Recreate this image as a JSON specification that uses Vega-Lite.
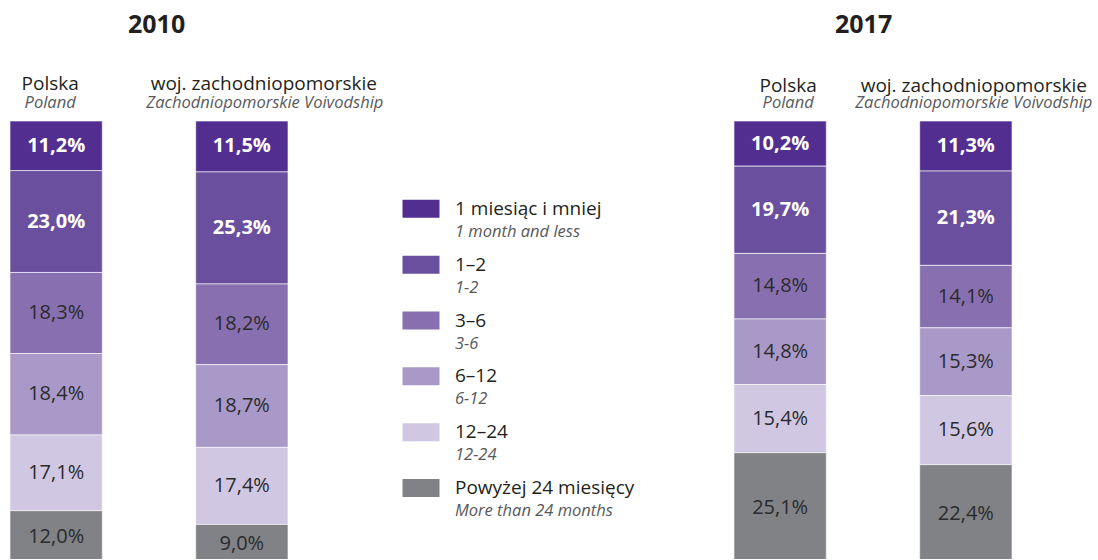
{
  "$schema": "https://vega.github.io/schema/vega-lite/v6.json",
  "background": "white",
  "padding": {"left": 10, "top": 13, "right": 0, "bottom": 0},
  "config": {
    "view": {"stroke": null},
    "font": "Open Sans",
    "axis": {"domain": false, "ticks": false, "grid": false, "title": null, "labelAngle": 0, "labelOverlap": false, "labelLimit": 0, "labelFont": "Open Sans"},
    "locale": {"number": {"decimal": ",", "thousands": " ", "grouping": [3], "currency": ["", "%"]}}
  },
  "datasets": {
    "bars": [
      {"year": "2010", "region": "Polska", "cat": "1 miesiąc i mniej", "k": 1, "value": 11.2},
      {"year": "2010", "region": "Polska", "cat": "1–2", "k": 2, "value": 23.0},
      {"year": "2010", "region": "Polska", "cat": "3–6", "k": 3, "value": 18.3},
      {"year": "2010", "region": "Polska", "cat": "6–12", "k": 4, "value": 18.4},
      {"year": "2010", "region": "Polska", "cat": "12–24", "k": 5, "value": 17.1},
      {"year": "2010", "region": "Polska", "cat": "Powyżej 24 miesięcy", "k": 6, "value": 12.0},
      {"year": "2010", "region": "woj. zachodniopomorskie", "cat": "1 miesiąc i mniej", "k": 1, "value": 11.5},
      {"year": "2010", "region": "woj. zachodniopomorskie", "cat": "1–2", "k": 2, "value": 25.3},
      {"year": "2010", "region": "woj. zachodniopomorskie", "cat": "3–6", "k": 3, "value": 18.2},
      {"year": "2010", "region": "woj. zachodniopomorskie", "cat": "6–12", "k": 4, "value": 18.7},
      {"year": "2010", "region": "woj. zachodniopomorskie", "cat": "12–24", "k": 5, "value": 17.4},
      {"year": "2010", "region": "woj. zachodniopomorskie", "cat": "Powyżej 24 miesięcy", "k": 6, "value": 9.0},
      {"year": "2017", "region": "Polska", "cat": "1 miesiąc i mniej", "k": 1, "value": 10.2},
      {"year": "2017", "region": "Polska", "cat": "1–2", "k": 2, "value": 19.7},
      {"year": "2017", "region": "Polska", "cat": "3–6", "k": 3, "value": 14.8},
      {"year": "2017", "region": "Polska", "cat": "6–12", "k": 4, "value": 14.8},
      {"year": "2017", "region": "Polska", "cat": "12–24", "k": 5, "value": 15.4},
      {"year": "2017", "region": "Polska", "cat": "Powyżej 24 miesięcy", "k": 6, "value": 25.1},
      {"year": "2017", "region": "woj. zachodniopomorskie", "cat": "1 miesiąc i mniej", "k": 1, "value": 11.3},
      {"year": "2017", "region": "woj. zachodniopomorskie", "cat": "1–2", "k": 2, "value": 21.3},
      {"year": "2017", "region": "woj. zachodniopomorskie", "cat": "3–6", "k": 3, "value": 14.1},
      {"year": "2017", "region": "woj. zachodniopomorskie", "cat": "6–12", "k": 4, "value": 15.3},
      {"year": "2017", "region": "woj. zachodniopomorskie", "cat": "12–24", "k": 5, "value": 15.6},
      {"year": "2017", "region": "woj. zachodniopomorskie", "cat": "Powyżej 24 miesięcy", "k": 6, "value": 22.4}
    ],
    "cats": [
      {"cat": "1 miesiąc i mniej", "en": "1 month and less"},
      {"cat": "1–2", "en": "1-2"},
      {"cat": "3–6", "en": "3-6"},
      {"cat": "6–12", "en": "6-12"},
      {"cat": "12–24", "en": "12-24"},
      {"cat": "Powyżej 24 miesięcy", "en": "More than 24 months"}
    ]
  },
  "spacing": 115,
  "bounds": "flush",
  "hconcat": [
    {
      "width": 278, "height": 438,
      "title": {"text": "2010", "anchor": "start", "frame": "group", "dx": 118, "offset": 36, "fontSize": 25, "fontWeight": "bold", "color": "#231f20"},
      "data": {"name": "bars"},
      "transform": [
        {"filter": "datum.year == '2010'"},
        {"stack": "value", "groupby": ["region"], "sort": [{"field": "k", "order": "ascending"}], "as": ["v0", "v1"]}
      ],
      "resolve": {"axis": {"x": "independent"}},
      "layer": [
        {
          "mark": {"type": "bar", "clip": true, "stroke": "#ffffff", "strokeWidth": 1, "strokeOpacity": 0.6},
          "encoding": {
            "x": {"field": "region", "type": "nominal", "sort": ["Polska", "woj. zachodniopomorskie"], "scale": {"paddingInner": 0.503, "paddingOuter": 0},
                  "axis": {"orient": "top", "labelFontSize": 19, "labelColor": "#231f20", "labelPadding": 32, "labelBaseline": "alphabetic", "labelOffset": {"condition": {"test": "datum.value == 'Polska'", "value": -6}, "value": 22}}},
            "y": {"field": "v0", "type": "quantitative", "scale": {"domain": [0, 98.9], "reverse": true, "nice": false, "zero": false}, "axis": null},
            "y2": {"field": "v1"},
            "color": {"field": "cat", "type": "nominal", "scale": {"domain": ["1 miesiąc i mniej", "1–2", "3–6", "6–12", "12–24", "Powyżej 24 miesięcy"], "range": ["#522e91", "#6a4f9e", "#8870b0", "#a899c8", "#d0c8e2", "#808285"]}, "legend": null}
          }
        },
        {
          "transform": [
            {"filter": "datum.k <= 2"},
            {"fold": ["v0", "v1"], "as": ["edge", "pos"]},
            {"aggregate": [{"op": "mean", "field": "pos", "as": "mid"}], "groupby": ["region", "k", "value"]}
          ],
          "mark": {"type": "text", "fontWeight": "bold", "fontSize": 20, "color": "#ffffff", "baseline": "middle"},
          "encoding": {
            "x": {"field": "region", "type": "nominal", "sort": ["Polska", "woj. zachodniopomorskie"], "scale": {"paddingInner": 0.503, "paddingOuter": 0},
                  "axis": {"orient": "top", "labelExpr": "datum.value == 'Polska' ? 'Poland' : 'Zachodniopomorskie Voivodship'", "labelFontSize": 16.5, "labelFontStyle": "italic", "labelColor": "#58595b", "labelPadding": 14, "labelBaseline": "alphabetic", "labelOffset": {"condition": {"test": "datum.value == 'Polska'", "value": -6}, "value": 23}}},
            "y": {"field": "mid", "type": "quantitative", "scale": {"domain": [0, 98.9], "reverse": true, "nice": false, "zero": false}, "axis": null},
            "text": {"field": "value", "type": "quantitative", "format": "$.1f"}
          }
        },
        {
          "transform": [
            {"filter": "datum.k > 2"},
            {"fold": ["v0", "v1"], "as": ["edge", "pos"]},
            {"aggregate": [{"op": "mean", "field": "pos", "as": "mid"}], "groupby": ["region", "k", "value"]}
          ],
          "mark": {"type": "text", "fontSize": 20, "color": "#2b2a2e", "baseline": "middle"},
          "encoding": {
            "x": {"field": "region", "type": "nominal", "sort": ["Polska", "woj. zachodniopomorskie"], "scale": {"paddingInner": 0.503, "paddingOuter": 0}, "axis": null},
            "y": {"field": "mid", "type": "quantitative", "scale": {"domain": [0, 98.9], "reverse": true, "nice": false, "zero": false}, "axis": null},
            "text": {"field": "value", "type": "quantitative", "format": "$.1f"}
          }
        }
      ]
    },
    {
      "width": 36, "height": 395,
      "data": {"name": "cats"},
      "encoding": {"y": {"field": "cat", "type": "nominal", "sort": null, "scale": {"type": "band", "domain": ["1 miesiąc i mniej", "1–2", "3–6", "6–12", "12–24", "Powyżej 24 miesięcy"], "paddingInner": 0, "paddingOuter": 0.536, "align": 1}, "axis": null}},
      "layer": [
        {"mark": {"type": "point", "shape": "M-1,-0.486H1V0.486H-1Z", "filled": true, "opacity": 1, "size": 1369, "strokeWidth": 0},
         "encoding": {"color": {"field": "cat", "type": "nominal", "scale": {"domain": ["1 miesiąc i mniej", "1–2", "3–6", "6–12", "12–24", "Powyżej 24 miesięcy"], "range": ["#522e91", "#6a4f9e", "#8870b0", "#a899c8", "#d0c8e2", "#808285"]}, "legend": null}}},
        {"mark": {"type": "text", "align": "left", "dx": 34, "fontSize": 19, "color": "#231f20", "baseline": "middle"}, "encoding": {"text": {"field": "cat"}}},
        {"mark": {"type": "text", "align": "left", "dx": 34, "dy": 23, "fontSize": 16.5, "fontStyle": "italic", "color": "#58595b", "baseline": "middle"}, "encoding": {"text": {"field": "en"}}}
      ]
    },
    {
      "width": 458, "height": 438,
      "title": {"text": "2017", "anchor": "start", "frame": "group", "dx": 281, "offset": 38, "fontSize": 25, "fontWeight": "bold", "color": "#231f20"},
      "data": {"name": "bars"},
      "transform": [
        {"filter": "datum.year == '2017'"},
        {"stack": "value", "groupby": ["region"], "sort": [{"field": "k", "order": "ascending"}], "as": ["v0", "v1"]}
      ],
      "resolve": {"axis": {"x": "independent"}},
      "layer": [
        {
          "mark": {"type": "bar", "clip": true, "stroke": "#ffffff", "strokeWidth": 1, "strokeOpacity": 0.6},
          "encoding": {
            "x": {"field": "region", "type": "nominal", "sort": ["Polska", "woj. zachodniopomorskie"], "scale": {"paddingInner": 0.503, "paddingOuter": 0.4846, "align": 1},
                  "axis": {"orient": "top", "labelFontSize": 19, "labelColor": "#231f20", "labelPadding": 30, "labelBaseline": "alphabetic", "labelOffset": 8}},
            "y": {"field": "v0", "type": "quantitative", "scale": {"domain": [0, 98.9], "reverse": true, "nice": false, "zero": false}, "axis": null},
            "y2": {"field": "v1"},
            "color": {"field": "cat", "type": "nominal", "scale": {"domain": ["1 miesiąc i mniej", "1–2", "3–6", "6–12", "12–24", "Powyżej 24 miesięcy"], "range": ["#522e91", "#6a4f9e", "#8870b0", "#a899c8", "#d0c8e2", "#808285"]}, "legend": null}
          }
        },
        {
          "transform": [
            {"filter": "datum.k <= 2"},
            {"fold": ["v0", "v1"], "as": ["edge", "pos"]},
            {"aggregate": [{"op": "mean", "field": "pos", "as": "mid"}], "groupby": ["region", "k", "value"]}
          ],
          "mark": {"type": "text", "fontWeight": "bold", "fontSize": 20, "color": "#ffffff", "baseline": "middle"},
          "encoding": {
            "x": {"field": "region", "type": "nominal", "sort": ["Polska", "woj. zachodniopomorskie"], "scale": {"paddingInner": 0.503, "paddingOuter": 0.4846, "align": 1},
                  "axis": {"orient": "top", "labelExpr": "datum.value == 'Polska' ? 'Poland' : 'Zachodniopomorskie Voivodship'", "labelFontSize": 16.5, "labelFontStyle": "italic", "labelColor": "#58595b", "labelPadding": 14, "labelBaseline": "alphabetic", "labelOffset": 8}},
            "y": {"field": "mid", "type": "quantitative", "scale": {"domain": [0, 98.9], "reverse": true, "nice": false, "zero": false}, "axis": null},
            "text": {"field": "value", "type": "quantitative", "format": "$.1f"}
          }
        },
        {
          "transform": [
            {"filter": "datum.k > 2"},
            {"fold": ["v0", "v1"], "as": ["edge", "pos"]},
            {"aggregate": [{"op": "mean", "field": "pos", "as": "mid"}], "groupby": ["region", "k", "value"]}
          ],
          "mark": {"type": "text", "fontSize": 20, "color": "#2b2a2e", "baseline": "middle"},
          "encoding": {
            "x": {"field": "region", "type": "nominal", "sort": ["Polska", "woj. zachodniopomorskie"], "scale": {"paddingInner": 0.503, "paddingOuter": 0.4846, "align": 1}, "axis": null},
            "y": {"field": "mid", "type": "quantitative", "scale": {"domain": [0, 98.9], "reverse": true, "nice": false, "zero": false}, "axis": null},
            "text": {"field": "value", "type": "quantitative", "format": "$.1f"}
          }
        }
      ]
    }
  ]
}
